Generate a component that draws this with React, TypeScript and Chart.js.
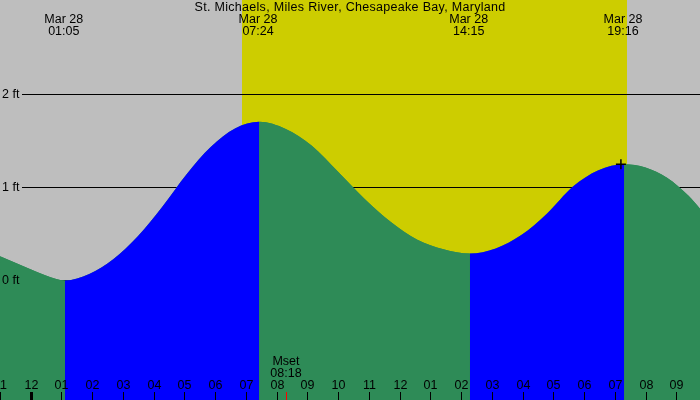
import { useEffect, useRef } from "react";
import { Chart, registerables } from "chart.js";

Chart.register(...registerables);

// ---- data (hours since midnight Mar 28, feet) ----
const tideHours = [-0.99, 0, 0.5, 1.12, 1.91, 2.7, 3.49, 4.28, 5.07, 5.86, 6.65, 7.44, 8.3, 9.15, 10.01, 10.86, 11.72, 12.58, 13.43, 14.29, 15.13, 15.96, 16.8, 17.64, 18.47, 19.31, 20.0, 20.7, 21.4, 22.1];
const tideFeet = [0.26, 0.12, 0.055, 0.0, 0.07, 0.23, 0.475, 0.79, 1.14, 1.435, 1.635, 1.707, 1.63, 1.45, 1.166, 0.88, 0.628, 0.438, 0.336, 0.29, 0.345, 0.488, 0.72, 1.01, 1.186, 1.25, 1.215, 1.105, 0.91, 0.64];

const eventHours = [1.083, 7.4, 14.25, 19.267];
const eventDates = ["Mar 28", "Mar 28", "Mar 28", "Mar 28"];
const eventTimes = ["01:05", "07:24", "14:15", "19:16"];

const hourTicks = [-1, 0, 1, 2, 3, 4, 5, 6, 7, 8, 9, 10, 11, 12, 13, 14, 15, 16, 17, 18, 19, 20, 21];
const hourLabels = ["11", "12", "01", "02", "03", "04", "05", "06", "07", "08", "09", "10", "11", "12", "01", "02", "03", "04", "05", "06", "07", "08", "09"];

const feetTicks = [0, 1, 2];
const feetLabels = ["0 ft", "1 ft", "2 ft"];

const sunriseHour = 6.88;
const sunsetHour = 19.4;
const moonsetHour = 8.3;
const moonsetName = "Mset";
const moonsetTime = "08:18";

const markerHours = [19.2];
const markerFeet = [1.25];

const chartTitle = "St. Michaels, Miles River, Chesapeake Bay, Maryland";

const X_MIN = -0.992;
const X_MAX = 21.772;
const Y_MIN = -1.285;
const Y_MAX = 3.016;

const FONT = "12.5px 'Liberation Sans', Arial, sans-serif";
const NIGHT = "#bebebe";
const DAY = "#cdcd00";
const FALL = "#2e8b57";
const RISE = "#0000ff";

const decorPlugin = {
  id: "tideDecor",
  beforeDatasetsDraw(chart: any) {
    const { ctx, chartArea: a, scales } = chart;
    const x = scales.x;
    const y = scales.y;
    ctx.save();
    ctx.fillStyle = NIGHT;
    ctx.fillRect(a.left, a.top, a.right - a.left, a.bottom - a.top);
    const sx0 = x.getPixelForValue(sunriseHour);
    const sx1 = x.getPixelForValue(sunsetHour);
    ctx.fillStyle = DAY;
    ctx.fillRect(Math.round(sx0), a.top, Math.round(sx1) - Math.round(sx0), a.bottom - a.top);
    ctx.fillStyle = "#000";
    feetTicks.forEach((v) => {
      const py = Math.floor(y.getPixelForValue(v));
      ctx.fillRect(22, py, a.right - 22, 1);
    });
    ctx.restore();
  },
  afterDatasetsDraw(chart: any) {
    const { ctx, scales } = chart;
    const x = scales.x;
    const y = scales.y;
    ctx.save();
    ctx.font = FONT;
    ctx.fillStyle = "#000";
    ctx.textBaseline = "middle";
    ctx.textAlign = "left";
    feetTicks.forEach((v, i) => {
      const py = y.getPixelForValue(v);
      ctx.fillText(feetLabels[i], 2, py);
    });
    ctx.textAlign = "center";
    ctx.save();
    (ctx as any).letterSpacing = "0.3px";
    ctx.fillText(chartTitle, 350, 7.5);
    ctx.restore();
    ctx.font = FONT;
    ctx.fillStyle = "#000";
    ctx.textBaseline = "middle";
    ctx.textAlign = "center";
    eventHours.forEach((h, i) => {
      const px = x.getPixelForValue(h);
      ctx.fillText(eventDates[i], px, 19.5);
      ctx.fillText(eventTimes[i], px, 31.5);
    });
    hourTicks.forEach((h, i) => {
      const px = Math.round(x.getPixelForValue(h));
      ctx.fillStyle = "#000";
      if (h === 0) ctx.fillRect(px - 1, 392, 3, 8);
      else ctx.fillRect(px, 392, 1, 8);
      ctx.fillText(hourLabels[i], px + 0.5, 385.5);
    });
    const mx = Math.round(x.getPixelForValue(moonsetHour));
    ctx.fillStyle = "#ff0000";
    ctx.fillRect(mx, 392, 1, 8);
    ctx.fillStyle = "#000";
    ctx.fillText(moonsetName, mx, 361.5);
    ctx.fillText(moonsetTime, mx, 373.5);
    ctx.restore();
  },
};

export default function App() {
  const ref = useRef<HTMLCanvasElement | null>(null);
  useEffect(() => {
    if (!ref.current) return;
    const tidePoints = tideHours.map((h, i) => ({ x: h, y: tideFeet[i] }));
    const chart = new Chart(ref.current, {
      type: "line",
      data: {
        datasets: [
          {
            data: markerHours.map((h, i) => ({ x: h, y: markerFeet[i] })),
            showLine: false,
            fill: false,
            pointStyle: "cross",
            pointRadius: 5,
            pointBorderWidth: 1.5,
            pointBorderColor: "#000",
            borderColor: "#000",
          } as any,
          {
            data: tidePoints,
            fill: "start",
            borderWidth: 0,
            borderColor: "rgba(0,0,0,0)",
            backgroundColor: FALL,
            pointRadius: 0,
            cubicInterpolationMode: "monotone",
            segment: {
              backgroundColor: (c: any) => (c.p1.parsed.y > c.p0.parsed.y ? RISE : FALL),
            },
          } as any,
          {
            data: tidePoints,
            fill: "start",
            borderWidth: 0,
            borderColor: "rgba(0,0,0,0)",
            backgroundColor: FALL,
            pointRadius: 0,
            cubicInterpolationMode: "monotone",
          } as any,
        ],
      },
      options: {
        responsive: false,
        animation: false,
        devicePixelRatio: 1,
        layout: { padding: 0, autoPadding: false },
        events: [],
        scales: {
          x: { type: "linear", min: X_MIN, max: X_MAX, display: false },
          y: { type: "linear", min: Y_MIN, max: Y_MAX, display: false },
        },
        plugins: {
          legend: { display: false },
          tooltip: { enabled: false },
          title: { display: false },
        },
      },
      plugins: [decorPlugin],
    });
    return () => chart.destroy();
  }, []);
  return (
    <div style={{ position: "fixed", left: 0, top: 0, width: 700, height: 400 }}>
      <canvas ref={ref} width={700} height={400} style={{ display: "block", width: 700, height: 400 }} />
    </div>
  );
}
